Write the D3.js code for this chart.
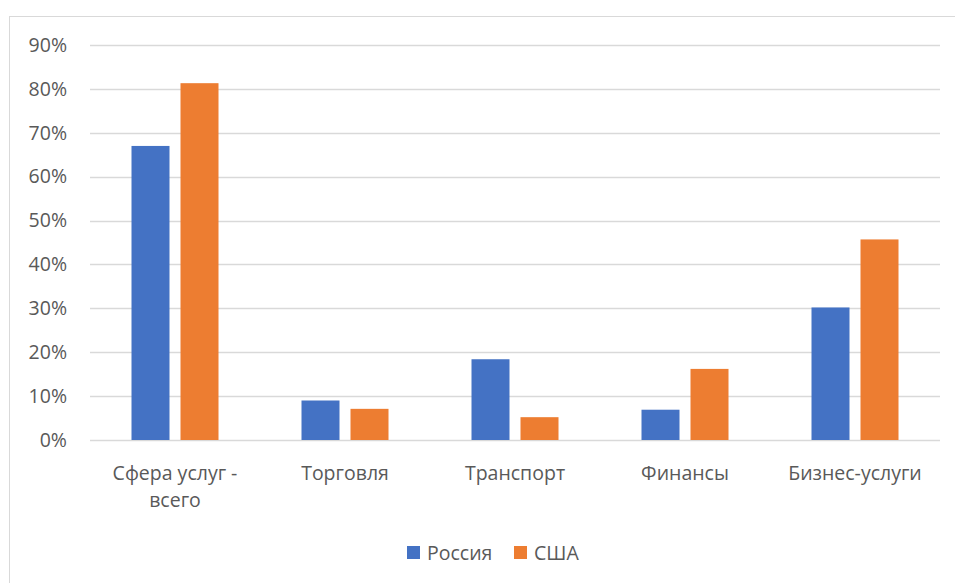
<!DOCTYPE html>
<html>
<head>
<meta charset="utf-8">
<script src="https://cdn.jsdelivr.net/npm/d3@7"></script>
<style>
  body { margin: 0; background: #fff; }
  svg text { font-family: "Open Sans", "Liberation Sans", sans-serif; fill: #595959; }
</style>
</head>
<body>
<div id="chart"></div>
<script>
// данные
var categories = [["Сфера услуг -", "всего"], ["Торговля"], ["Транспорт"], ["Финансы"], ["Бизнес-услуги"]];
var russia = [0.67, 0.09, 0.184, 0.069, 0.302];
var usa = [0.813, 0.071, 0.052, 0.162, 0.457];
var seriesNames = ["Россия", "США"];
var colors = ["#4472c4", "#ed7d31"];
var yTicks = [0, 0.1, 0.2, 0.3, 0.4, 0.5, 0.6, 0.7, 0.8, 0.9];

var w = 955, h = 583;
var margin = {top: 45, right: 15, bottom: 143, left: 90};
var width = w - margin.left - margin.right,
    height = h - margin.top - margin.bottom;

var svg = d3.select("#chart").append("svg")
  .attr("width", w)
  .attr("height", h);

// рамка
svg.append("rect")
  .attr("x", 9.5).attr("y", 16.5)
  .attr("width", 960).attr("height", 600)
  .attr("fill", "none")
  .attr("stroke", "#d9d9d9");

var g = svg.append("g")
  .attr("transform", "translate(" + margin.left + "," + margin.top + ")");

var xScale = d3.scaleBand()
  .domain(d3.range(categories.length))
  .range([0, width]);

var yScale = d3.scaleLinear()
  .domain([0, 0.9])
  .range([height, 0]);

var barW = 38, gap = 11;

// сетка
g.selectAll("line.grid")
  .data(yTicks)
  .enter()
  .append("line")
  .attr("class", "grid")
  .attr("x1", 0).attr("x2", width)
  .attr("y1", function(d) { return Math.round(yScale(d)) + 0.5; })
  .attr("y2", function(d) { return Math.round(yScale(d)) + 0.5; })
  .attr("stroke", "#d9d9d9")
  .attr("stroke-width", 1.5);

// ось Y
var yAxis = g.append("g")
  .call(d3.axisLeft(yScale).tickValues(yTicks).tickFormat(d3.format(".0%")).tickSize(0).tickPadding(23));
yAxis.select(".domain").remove();
yAxis.selectAll("text").style("font-size", "19.5px");

// столбцы
var seriesData = [russia, usa];
seriesData.forEach(function(values, s) {
  g.selectAll("rect.s" + s)
    .data(values)
    .enter()
    .append("rect")
    .attr("class", "s" + s)
    .attr("x", function(d, i) {
      var c = xScale(i) + xScale.bandwidth() / 2;
      return s == 0 ? c - gap / 2 - barW : c + gap / 2;
    })
    .attr("y", function(d) { return yScale(d); })
    .attr("width", barW)
    .attr("height", function(d) { return height - yScale(d); })
    .attr("fill", colors[s]);
});

// ось X
var xLabels = g.selectAll("text.cat")
  .data(categories)
  .enter()
  .append("text")
  .attr("class", "cat")
  .attr("x", function(d, i) { return xScale(i) + xScale.bandwidth() / 2; })
  .attr("y", height + 40)
  .attr("text-anchor", "middle")
  .style("font-size", "19.5px");

xLabels.each(function(d) {
  var t = d3.select(this);
  d.forEach(function(line, k) {
    t.append("tspan")
      .attr("x", t.attr("x"))
      .attr("dy", k == 0 ? 0 : 27)
      .text(line);
  });
});

// легенда
var legend = svg.append("g");
var legendX = [407, 514];
seriesNames.forEach(function(name, s) {
  legend.append("rect")
    .attr("x", legendX[s]).attr("y", 546)
    .attr("width", 13).attr("height", 13)
    .attr("fill", colors[s]);
  legend.append("text")
    .attr("x", legendX[s] + 20).attr("y", 560)
    .text(name)
    .style("font-size", "19.5px");
});
</script>
</body>
</html>
